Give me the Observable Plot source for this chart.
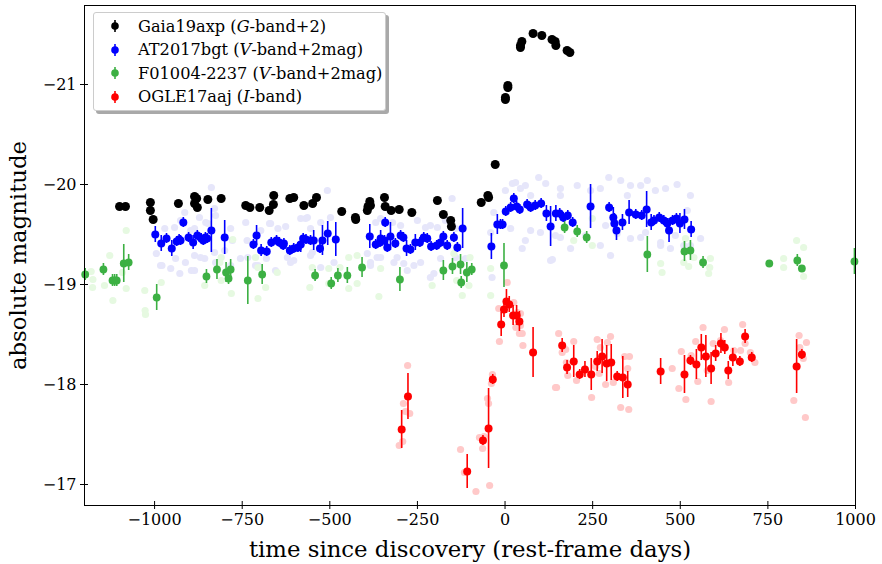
<!DOCTYPE html>
<html>
<head>
<meta charset="utf-8">
<script src="https://cdn.jsdelivr.net/npm/d3@7"></script>
<script src="https://cdn.jsdelivr.net/npm/@observablehq/plot@0.6"></script>
<style>
  html, body { margin: 0; padding: 0; background: white; }
  #wrap { position: relative; width: 882px; height: 564px; }
  #legend {
    position: absolute; left: 93px; top: 12px; width: 291px; height: 97px;
    border: 1px solid #cccccc; border-radius: 3px; background: white;
    box-shadow: 3px 3px 0 #a9a9a9;
    font-family: "DejaVu Serif", serif; font-size: 16.2px; color: black;
  }
  #legend .row { position: absolute; left: 0; height: 22px; display: flex; align-items: center; white-space: nowrap; }
  #legend svg { margin-left: 15px; margin-right: 17px; }
</style>
</head>
<body>
<div id="wrap">
  <div id="chart"></div>
  <div id="legend"></div>
</div>
<script>
// ---------- axis ticks ----------
const xTicks = [-1000, -750, -500, -250, 0, 250, 500, 750, 1000];
const yTicks = [-21, -20, -19, -18, -17];
const xDomain = [-1200, 1000];
const yDomain = [-16.79, -21.79];

// ---------- legend labels ----------
const seriesNames = ["Gaia19axp (<i>G</i>-band+2)", "AT2017bgt (<i>V</i>-band+2mag)", "F01004-2237 (<i>V</i>-band+2mag)", "OGLE17aaj (<i>I</i>-band)"];
const seriesColors = ["#000000", "#0000ff", "#3cb043", "#ff0000"];
const paleColors = ["#e6e6fa", "#e6f9e1", "#ffc9c9"];

// ---------- Gaia19axp (black) ----------
const blackT = [-1100,-1083,-1012,-1012,-1004,-932,-886,-880,-886,-878,-848,-810,-740,-728,-700,-673,-660,-661,-614,-603,-574,-549,-538,-466,-427,-426,-391,-386,-393,-384,-344,-342,-325,-302,-266,-193,-176,-155,-153,-68,-49,-47,-28,1,1,8,8,44,48,44,80,105,134,143,145,177,185];
const blackM = [-19.78,-19.78,-19.82,-19.74,-19.65,-19.81,-19.88,-19.86,-19.81,-19.77,-19.85,-19.86,-19.79,-19.77,-19.77,-19.74,-19.89,-19.80,-19.86,-19.87,-19.79,-19.81,-19.87,-19.73,-19.67,-19.65,-19.78,-19.83,-19.74,-19.79,-19.87,-19.78,-19.74,-19.75,-19.72,-19.84,-19.70,-19.64,-19.58,-19.82,-19.89,-19.87,-20.20,-20.85,-20.87,-20.97,-20.99,-21.39,-21.43,-21.37,-21.51,-21.49,-21.45,-21.43,-21.39,-21.34,-21.32];

// ---------- AT2017bgt (blue) ----------
const blueT = [-998,-981,-966,-951,-937,-930,-926,-918,-903,-890,-878,-867,-861,-855,-850,-838,-800,-718,-709,-696,-680,-667,-652,-644,-633,-631,-614,-603,-591,-583,-576,-568,-555,-546,-528,-521,-506,-483,-386,-369,-357,-355,-344,-342,-336,-327,-313,-298,-290,-281,-270,-256,-243,-232,-222,-211,-195,-184,-176,-165,-146,-136,-121,-39,-22,-13,-7,2,16,25,33,42,63,73,86,103,118,130,145,156,166,179,193,244,297,309,312,318,335,354,373,390,404,417,425,440,453,463,468,478,489,499,512,531];
const blueM = [-19.50,-19.41,-19.46,-19.36,-19.43,-19.45,-19.44,-19.62,-19.47,-19.42,-19.49,-19.46,-19.44,-19.47,-19.46,-19.54,-19.47,-19.40,-19.49,-19.34,-19.33,-19.42,-19.44,-19.42,-19.39,-19.41,-19.34,-19.36,-19.37,-19.40,-19.46,-19.45,-19.44,-19.44,-19.36,-19.44,-19.51,-19.45,-19.48,-19.40,-19.42,-19.46,-19.44,-19.62,-19.37,-19.48,-19.41,-19.49,-19.47,-19.36,-19.35,-19.42,-19.42,-19.47,-19.46,-19.38,-19.39,-19.42,-19.48,-19.39,-19.47,-19.37,-19.56,-19.38,-19.60,-19.60,-19.60,-19.73,-19.77,-19.86,-19.78,-19.75,-19.80,-19.77,-19.79,-19.81,-19.71,-19.58,-19.71,-19.71,-19.67,-19.69,-19.62,-19.78,-19.77,-19.67,-19.61,-19.54,-19.62,-19.72,-19.70,-19.69,-19.75,-19.62,-19.64,-19.67,-19.64,-19.61,-19.54,-19.64,-19.66,-19.61,-19.65,-19.55];
const blueE = [0.08,0.08,0.05,0.08,0.05,0.05,0.05,0.05,0.05,0.07,0.05,0.05,0.05,0.05,0.05,0.22,0.17,0.05,0.10,0.06,0.05,0.05,0.05,0.05,0.05,0.05,0.05,0.05,0.05,0.08,0.05,0.05,0.05,0.10,0.05,0.15,0.12,0.17,0.12,0.05,0.05,0.08,0.05,0.05,0.05,0.14,0.05,0.05,0.05,0.08,0.05,0.08,0.05,0.05,0.05,0.05,0.05,0.05,0.05,0.05,0.05,0.05,0.20,0.13,0.10,0.05,0.05,0.05,0.05,0.05,0.05,0.05,0.05,0.05,0.05,0.05,0.08,0.20,0.08,0.05,0.05,0.05,0.05,0.22,0.05,0.10,0.10,0.10,0.08,0.12,0.05,0.05,0.18,0.08,0.05,0.05,0.05,0.05,0.12,0.05,0.05,0.10,0.10,0.08];
const paleBlueT = [-838,-995,-979,-954,-928,-914,-895,-886,-872,-829,-971,-943,-886,-848,-829,-886,-857,-800,-672,-648,-734,-705,-681,-507,-736,-564,-603,-550,-778,-569,-498,-621,-526,-488,-250,-227,-193,-355,-355,-317,-289,-260,-203,-141,-393,-365,-151,96,206,296,491,21,44,-32,-41,-37,49,73,130,158,187,301,320,358,406,444,472,510,387,520,349,-308,-384,-213,-279,135,
  -983,-912,-869,-826,-755,-712,-612,-555,-655,-783,-940,-926,-854,-826,-740,-669,-583,-526,-897,-783,-697,-626,-555,-384,-241,-184,-113,-369,-321,-213,-170,-298,-141,1,30,58,116,158,244,272,330,387,429,458,529,158,73,16,58,101,144,230,272,358,401,444,486,529,558,287];
const paleBlueM = [-19.97,-19.31,-19.19,-19.16,-19.11,-19.72,-19.14,-19.14,-19.67,-19.76,-19.56,-19.57,-19.56,-19.61,-19.32,-19.29,-19.26,-19.34,-19.61,-19.56,-19.27,-19.19,-19.26,-19.94,-19.44,-19.67,-19.24,-19.32,-19.44,-19.66,-19.67,-19.27,-19.17,-19.22,-19.64,-19.57,-19.57,-19.66,-19.27,-19.22,-19.21,-19.19,-19.11,-19.27,-19.31,-19.27,-19.86,-20.07,-19.99,-20.07,-20.00,-20.01,-19.96,-19.72,-19.52,-19.07,-19.36,-19.54,-19.24,-19.47,-19.36,-19.29,-19.51,-19.99,-20.04,-19.42,-19.36,-19.39,-19.47,-19.74,-19.89,-19.27,-19.19,-19.07,-19.14,-19.25,
  -19.19,-19.22,-19.27,-19.22,-19.26,-19.19,-19.22,-19.29,-19.14,-19.19,-19.26,-19.64,-19.62,-19.69,-19.62,-19.61,-19.66,-19.62,-19.54,-19.56,-19.54,-19.58,-19.56,-19.22,-19.22,-19.26,-19.26,-19.62,-19.62,-19.59,-19.64,-19.59,-19.56,-19.94,-20.02,-19.99,-20.01,-19.96,-19.94,-19.96,-20.04,-19.99,-19.94,-19.96,-19.89,-19.89,-19.89,-19.56,-19.44,-19.52,-19.49,-19.49,-19.39,-19.46,-19.52,-19.39,-19.49,-19.39,-19.46,-19.59];

// ---------- F01004-2237 (green) ----------
const greenT = [-1198,-1146,-1120,-1114,-1108,-1088,-1074,-994,-852,-822,-796,-789,-783,-734,-693,-542,-496,-477,-450,-408,-300,-176,-150,-127,-125,-109,-95,-3,170,206,233,406,512,529,565,754,834,847,997];
const greenM = [-19.10,-19.15,-19.04,-19.04,-19.04,-19.21,-19.22,-18.87,-19.08,-19.15,-19.12,-19.06,-19.15,-19.04,-19.10,-19.09,-19.01,-19.09,-19.09,-19.17,-19.05,-19.14,-19.18,-19.20,-19.02,-19.12,-19.15,-19.19,-19.57,-19.53,-19.47,-19.30,-19.33,-19.34,-19.22,-19.21,-19.24,-19.16,-19.23];
const greenE = [0.06,0.06,0.06,0.06,0.06,0.19,0.08,0.13,0.07,0.10,0.10,0.06,0.10,0.24,0.10,0.06,0.06,0.07,0.08,0.10,0.12,0.10,0.08,0.10,0.06,0.10,0.06,0.22,0.06,0.06,0.06,0.18,0.10,0.10,0.06,0.03,0.06,0.03,0.13];
const paleGreenT = [-1181,-1176,-1177,-1128,-1081,-1143,-1092,-1081,-1119,-1028,-1027,-1026,-981,-777,-810,-857,-810,-781,-705,-705,-650,-814,-712,-683,-557,-503,-503,-446,-422,-360,-422,-550,-471,-446,-355,-208,-146,-122,-100,-138,-103,-41,-41,196,249,249,586,581,510,444,448,515,524,584,795,795,832,852,852,539];
const paleGreenM = [-19.13,-19.05,-18.97,-19.29,-19.54,-18.99,-19.12,-18.96,-18.84,-18.94,-18.74,-18.70,-19.02,-19.45,-19.27,-18.99,-19.04,-18.91,-18.86,-19.17,-19.12,-19.22,-19.27,-18.97,-18.97,-19.16,-19.01,-19.27,-19.01,-18.88,-19.29,-19.17,-19.17,-18.96,-19.16,-18.99,-19.31,-18.89,-19.27,-19.04,-18.99,-19.16,-18.89,-19.44,-19.39,-19.66,-19.26,-19.11,-19.22,-19.21,-19.12,-19.46,-19.18,-19.17,-19.26,-19.17,-19.44,-19.37,-19.08,-19.27];

// ---------- OGLE17aaj (red) ----------
const redT = [-295,-277,-108,-63,-47,-35,-11,-3,4,12,23,33,41,80,163,177,196,213,228,246,263,277,290,303,320,336,350,444,512,529,546,560,573,588,601,616,627,637,650,670,685,704,832,847];
const redM = [-17.55,-17.88,-17.13,-17.44,-17.56,-18.05,-18.60,-18.75,-18.83,-18.80,-18.69,-18.69,-18.63,-18.32,-18.39,-18.17,-18.23,-18.10,-18.15,-18.10,-18.23,-18.28,-18.21,-18.22,-18.08,-18.07,-18.00,-18.13,-18.10,-18.24,-18.20,-18.37,-18.28,-18.16,-18.31,-18.41,-18.37,-18.14,-18.27,-18.23,-18.48,-18.27,-18.18,-18.30];
const redE = [0.19,0.23,0.17,0.05,0.40,0.05,0.12,0.08,0.12,0.08,0.10,0.10,0.10,0.25,0.07,0.07,0.16,0.05,0.08,0.16,0.10,0.17,0.18,0.18,0.05,0.21,0.13,0.13,0.19,0.05,0.15,0.13,0.21,0.16,0.08,0.10,0.07,0.09,0.09,0.05,0.07,0.05,0.27,0.05];
const paleRedT = [-278,-290,-284,-272,-292,-302,-127,-116,-83,-73,-60,-64,-50,-47,-39,-36,-44,-16,144,-18,6,25,35,44,31,41,51,153,44,49,147,163,173,175,179,196,204,247,258,263,272,269,287,292,301,309,330,341,350,353,355,477,496,503,516,531,544,550,565,577,588,594,615,626,638,653,672,678,685,700,713,824,839,841,860,851,857];
const paleRedM = [-18.19,-17.81,-17.73,-17.71,-17.43,-17.39,-17.35,-17.12,-16.93,-17.47,-17.48,-17.36,-17.86,-17.81,-18.01,-18.10,-16.99,-18.43,-17.97,-18.76,-19.02,-18.82,-18.72,-18.71,-18.57,-18.51,-18.39,-18.51,-18.59,-18.51,-17.97,-18.32,-18.35,-18.22,-18.09,-18.43,-18.04,-17.87,-18.18,-18.45,-18.37,-18.11,-18.00,-18.42,-18.48,-18.02,-17.77,-18.28,-18.16,-17.75,-18.28,-18.16,-17.96,-18.33,-17.85,-18.29,-18.43,-18.03,-18.57,-18.14,-17.83,-18.41,-18.44,-18.55,-18.02,-18.34,-18.34,-18.60,-18.41,-18.32,-18.22,-17.84,-18.49,-18.37,-18.42,-18.26,-17.67];

// ---------- build tables ----------
const pts = (T, M) => T.map((t, i) => ({t, m: M[i]}));
const errPts = (T, M, E) => T.map((t, i) => ({t, m: M[i], lo: M[i] - E[i], hi: M[i] + E[i]}));

const black = pts(blackT, blackM);
const blue = errPts(blueT, blueM, blueE);
const green = errPts(greenT, greenM, greenE);
const red = errPts(redT, redM, redE);
const paleBlue = pts(paleBlueT, paleBlueM);
const paleGreen = pts(paleGreenT, paleGreenM);
const paleRed = pts(paleRedT, paleRedM);

const fmt = d => (d < 0 ? "\u2212" + Math.abs(d) : String(d));

const chart = Plot.plot({
  width: 882,
  height: 564,
  marginLeft: 84,
  marginRight: 27,
  marginTop: 5,
  marginBottom: 59,
  style: {fontFamily: "'DejaVu Serif', serif", fontSize: "16px", background: "white", color: "black"},
  x: {domain: xDomain, ticks: xTicks, tickFormat: fmt, tickSize: 4, tickPadding: 4, label: null},
  y: {domain: yDomain, ticks: yTicks, tickFormat: fmt, tickSize: 4, tickPadding: 4, label: null},
  marks: [
    Plot.dot(paleBlue, {x: "t", y: "m", r: 3.6, fill: paleColors[0]}),
    Plot.dot(paleGreen, {x: "t", y: "m", r: 3.6, fill: paleColors[1]}),
    Plot.dot(paleRed, {x: "t", y: "m", r: 3.6, fill: paleColors[2]}),
    Plot.ruleX(green, {x: "t", y1: "lo", y2: "hi", stroke: seriesColors[2], strokeWidth: 1.6}),
    Plot.dot(green, {x: "t", y: "m", r: 3.9, fill: seriesColors[2]}),
    Plot.ruleX(blue, {x: "t", y1: "lo", y2: "hi", stroke: seriesColors[1], strokeWidth: 1.6}),
    Plot.dot(blue, {x: "t", y: "m", r: 4.0, fill: seriesColors[1]}),
    Plot.ruleX(red, {x: "t", y1: "lo", y2: "hi", stroke: seriesColors[3], strokeWidth: 1.6}),
    Plot.dot(red, {x: "t", y: "m", r: 4.0, fill: seriesColors[3]}),
    Plot.dot(black, {x: "t", y: "m", r: 4.5, fill: seriesColors[0]}),
    // inward halves of the ticks
    Plot.ruleX(xTicks, {x: d => d, y1: yDomain[0], y2: yDomain[0] - 0.04, stroke: "black"}),
    Plot.ruleY(yTicks, {y: d => d, x1: xDomain[0], x2: xDomain[0] + 11.4, stroke: "black"}),
    Plot.frame({stroke: "black"}),
    Plot.text(["time since discovery (rest-frame days)"], {frameAnchor: "bottom", dy: 44, fontSize: 22.8, textAnchor: "middle", lineAnchor: "middle"}),
    Plot.text(["absolute magnitude"], {frameAnchor: "left", dx: -66, rotate: -90, fontSize: 22.8, textAnchor: "middle", lineAnchor: "middle"})
  ]
});
document.getElementById("chart").appendChild(chart);

// ---------- legend ----------
const legend = document.getElementById("legend");
seriesNames.forEach((name, i) => {
  const row = document.createElement("div");
  row.className = "row";
  row.style.top = (2 + i * 23.5) + "px";
  row.innerHTML = `<svg width="12" height="18" viewBox="-6 -9 12 18"><line x1="0" x2="0" y1="-6" y2="6" stroke="${seriesColors[i]}" stroke-width="1.6"/><circle r="3.8" fill="${seriesColors[i]}"/></svg><span>${name}</span>`;
  legend.appendChild(row);
});
</script>
</body>
</html>
